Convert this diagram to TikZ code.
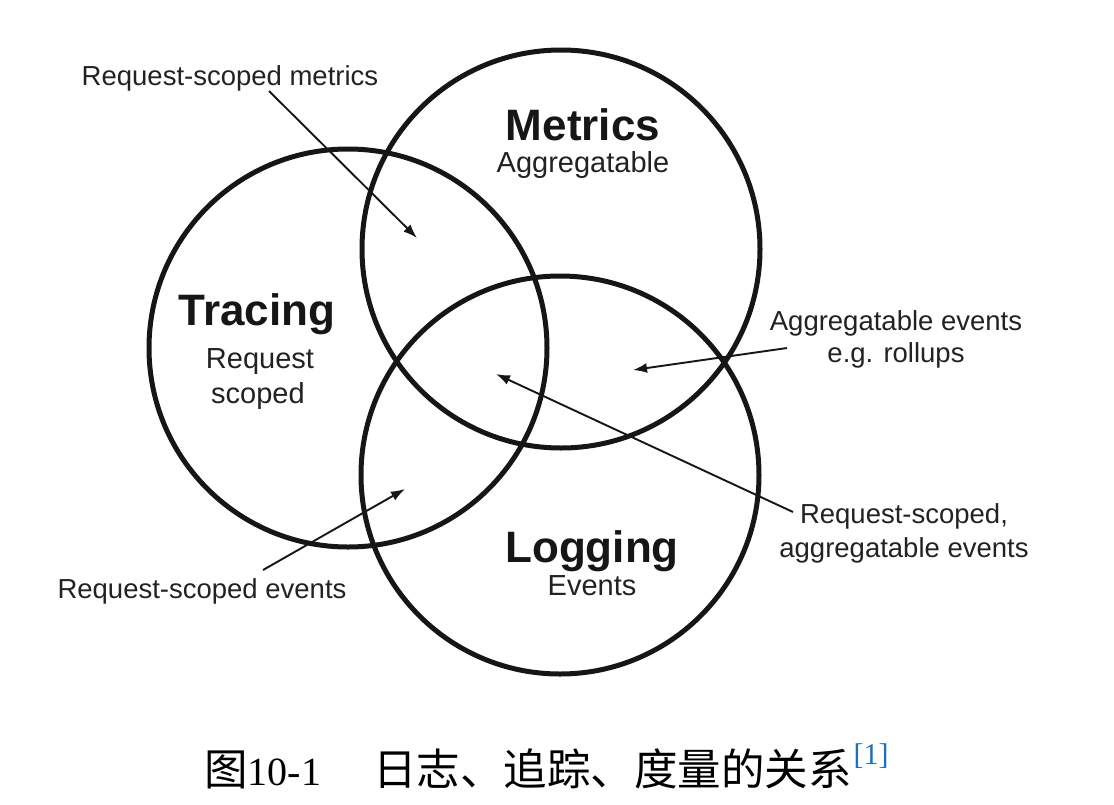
\documentclass[tikz,border=0pt]{standalone}
\usepackage{fontspec}
\setmainfont{Liberation Sans}
\newfontfamily\cjkfont{Noto Sans CJK SC}
\newfontfamily\numfont{Liberation Serif}
\usetikzlibrary{arrows.meta}
\definecolor{ink}{HTML}{161616}
\definecolor{txt}{HTML}{222222}
\definecolor{refblue}{HTML}{1F6FC0}
\begin{document}
\begin{tikzpicture}[x=1pt,y=-1pt,
  ring/.style={circle, draw=ink, line width=5pt, minimum size=398pt, inner sep=0pt},
  titletext/.style={anchor=base, text=ink, inner sep=0pt, font=\fontsize{44}{50}\selectfont\bfseries},
  subtext/.style={anchor=base, text=txt, inner sep=0pt, font=\fontsize{29}{34}\selectfont},
  labeltext/.style={anchor=base, text=txt, inner sep=0pt, font=\fontsize{27.5}{32}\selectfont},
  pointer/.style={draw=ink, line width=1.9pt, -{Latex[length=14pt,width=10pt]}}
]
\useasboundingbox (0,0) rectangle (1114,804);

% circles
\node[ring] (tracing) at (348,348) {};
\node[ring] (metrics) at (561,249) {};
\node[ring] (logging) at (560,475) {};

% titles
\node[titletext] (tracingT) at (257,325) {Tracing};
\node[subtext] (tracingS1) at (260,368) {Request};
\node[subtext] (tracingS2) at (258,403) {scoped};

\node[titletext] (metricsT) at (583,140) {Metrics};
\node[subtext] (metricsS) at (583,172) {Aggregatable};

\node[titletext] (loggingT) at (592,562) {Logging};
\node[subtext] (loggingS) at (592,595) {Events};

% labels
\node[labeltext] (lblRSM) at (230,85) {Request-scoped metrics};
\node[labeltext] (lblAE1) at (896,330) {Aggregatable events};
\node[labeltext] (lblAE2) at (896,362) {e.g. rollups};
\node[labeltext] (lblRSA1) at (904,523) {Request-scoped,};
\node[labeltext] (lblRSA2) at (904,557) {aggregatable events};
\node[labeltext] (lblRSE) at (202,598) {Request-scoped events};

% arrow ends
\coordinate (rsmTail) at (269,91);
\coordinate (rsmTip) at (417,238);
\coordinate (aeTail) at (787,348);
\coordinate (aeTip) at (633,370);
\coordinate (rsaTail) at (793,512);
\coordinate (rsaTip) at (496,374);
\coordinate (rseTail) at (263,570);
\coordinate (rseTip) at (405,489);

\draw[pointer] (rsmTail) -- (rsmTip);
\draw[pointer] (aeTail) -- (aeTip);
\draw[pointer] (rsaTail) -- (rsaTip);
\draw[pointer] (rseTail) -- (rseTip);

% caption
\node[anchor=base west, inner sep=0pt, text=black] (caption) at (204,785)
  {\fontsize{43.5}{50}\selectfont\cjkfont 图\numfont\fontsize{40}{46}\selectfont 10-1\hspace{52pt}\cjkfont\fontsize{43.5}{50}\selectfont 日志、追踪、度量的关系\hspace{2pt}\raisebox{21pt}{\numfont\fontsize{30}{34}\selectfont\color{refblue}[1]}};
\end{tikzpicture}
\end{document}
